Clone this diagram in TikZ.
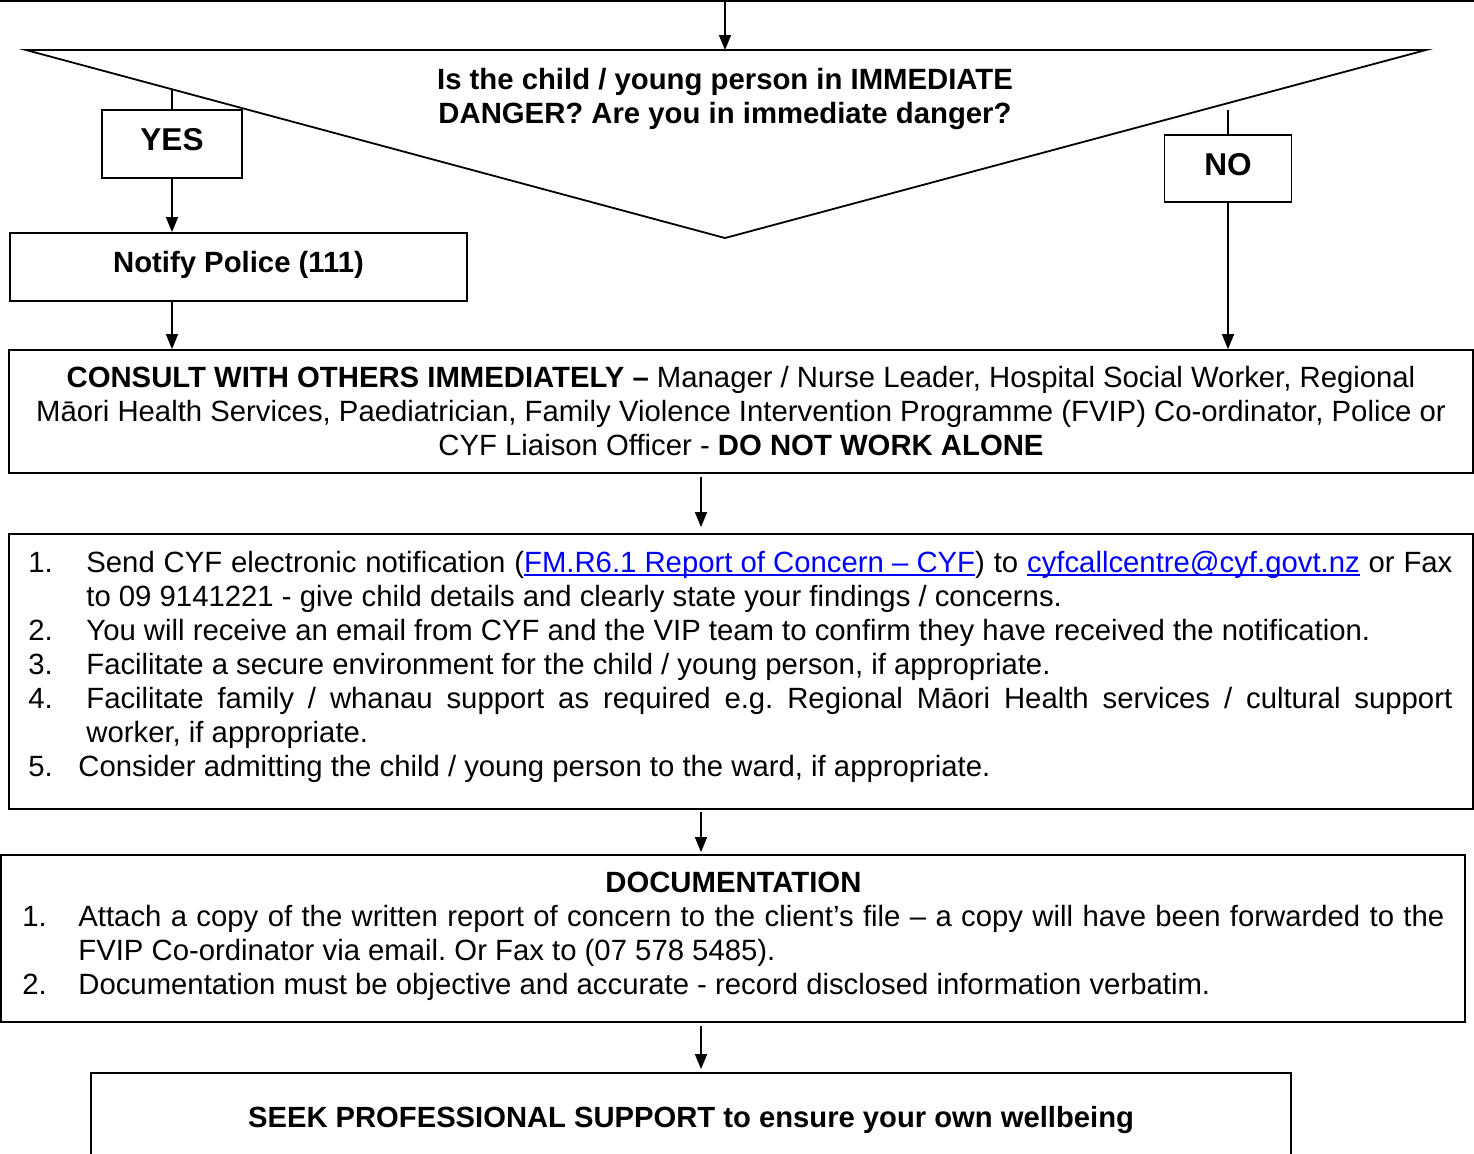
\documentclass[tikz,border=0pt]{standalone}
\usepackage{fontspec}
\setmainfont{Liberation Sans}
\usetikzlibrary{arrows.meta}
\definecolor{linkblue}{RGB}{0,0,255}
\newcommand{\lnk}[1]{\setbox0\hbox{#1}\textcolor{linkblue}{\rlap{\rule[-1.6pt]{\wd0}{0.7pt}}\box0}}
\newcommand{\itm}[3]{\par\noindent\hangindent=#2\hangafter=1\makebox[#2][l]{#1}#3}
\newcommand{\jfy}{\leftskip=0pt\rightskip=0pt\spaceskip=0pt\xspaceskip=0pt\parfillskip=0pt plus 1fil\parindent=0pt\emergencystretch=2em\relax}
\tikzset{
  boxn/.style={draw, line width=0.9pt, inner sep=0pt, align=center},
  arr/.style={line width=0.8pt, -{Triangle[length=7.5pt,width=6pt]}},
  ln/.style={line width=0.8pt},
  txt/.style={inner sep=0pt, font=\fontsize{14.65}{17}\selectfont},
  btxt/.style={inner sep=0pt, font=\fontsize{14.65}{17}\selectfont\bfseries},
  ltxt/.style={inner sep=0pt, align=justify, font=\fontsize{14.65}{17}\selectfont\frenchspacing},
}
\begin{document}
\begin{tikzpicture}[x=0.5pt,y=-0.5pt,font=\fontsize{14.65}{17}\selectfont]
\useasboundingbox (0,0) rectangle (1474,1153);
\clip (0,0) rectangle (1474,1153);
% top box (bottom edge only visible)
\node[boxn, minimum width=736pt, minimum height=20.5pt] (top) at (737,-19.5) {};
% triangle
\coordinate (tl) at (26,50);
\coordinate (tr) at (1426,50);
\coordinate (ap) at (725,238);
\coordinate (tt) at (725,50);
\draw[line width=0.9pt, line join=miter] (tl) -- (tr) -- (ap) -- cycle;
\node[btxt, align=center] (q) at (725,99)
  {Is the child / young person in IMMEDIATE\\DANGER? Are you in immediate danger?};
\draw[arr] (top.south -| tt) -- (tt);
% YES branch
\node[boxn, minimum width=70pt, minimum height=34pt] (yes) at (172,144) {};
\node[btxt, font=\fontsize{15.8}{18}\selectfont\bfseries] (yestxt) at (172,140) {YES};
\coordinate (yesTop) at (172,89.5);
\draw[ln] (yesTop) -- (yes.north);
\node[boxn, minimum width=228.5pt, minimum height=34pt] (notify) at (238.5,267) {};
\node[btxt] (notifytxt) at (238.5,265) {Notify Police (111)};
\draw[arr] (yes.south) -- (yes.south |- notify.north);
% NO branch
\node[boxn, minimum width=63.5pt, minimum height=33.5pt] (no) at (1228,168.5) {};
\node[btxt, font=\fontsize{15.8}{18}\selectfont\bfseries] (notxt) at (1228,165) {NO};
\coordinate (noTop) at (1228,110);
\draw[ln] (noTop) -- (no.north);
% consult
\node[boxn, minimum width=732pt, minimum height=61.5pt] (consult) at (741,411.5)
  {\textbf{CONSULT WITH OTHERS IMMEDIATELY –} Manager / Nurse Leader, Hospital Social Worker, Regional\\
   Māori Health Services, Paediatrician, Family Violence Intervention Programme (FVIP) Co-ordinator, Police or\\
   CYF Liaison Officer - \textbf{DO NOT WORK ALONE}};
\draw[arr] (notify.south -| yes.south) -- (consult.north -| yes.south);
\draw[arr] (no.south) -- (no.south |- consult.north);
% list box
\node[boxn, minimum width=732pt, minimum height=137.5pt] (list) at (741,671.5) {};
\node[ltxt, anchor=north west, text width=712pt] (listtxt) at (28,538) {%
  \jfy
  \itm{1.}{29pt}{\strut Send CYF electronic notification (\lnk{FM.R6.1 Report of Concern – CYF}) to \lnk{cyfcallcentre@cyf.govt.nz} or Fax\linebreak to 09 9141221 - give child details and clearly state your findings / concerns.}
  \itm{2.}{29pt}{You will receive an email from CYF and the VIP team to confirm they have received the notification.}
  \itm{3.}{29pt}{Facilitate a secure environment for the child / young person, if appropriate.}
  \itm{4.}{29pt}{Facilitate family / whanau support as required e.g. Regional Māori Health services / cultural support\linebreak worker, if appropriate.}
  \itm{5.}{25pt}{Consider admitting the child / young person to the ward, if appropriate.}\par};
\coordinate (c1) at (701,0);
\draw[arr, shorten <=1.5pt, shorten >=3pt] (consult.south -| c1) -- (list.north -| c1);
% documentation box
\node[boxn, minimum width=732pt, minimum height=83.5pt] (doc) at (733,938.5) {};
\node[ltxt, anchor=north west, text width=711pt] (doctxt) at (22,868) {%
  \jfy
  {\centering\strut\textbf{DOCUMENTATION}\par}
  \itm{1.}{28pt}{Attach a copy of the written report of concern to the client’s file – a copy will have been forwarded to the\linebreak FVIP Co-ordinator via email. Or Fax to (07 578 5485).}
  \itm{2.}{28pt}{Documentation must be objective and accurate - record disclosed information verbatim.}\par};
\draw[arr, shorten <=1pt, shorten >=1pt] (list.south -| c1) -- (doc.north -| c1);
% final box
\node[boxn, minimum width=600pt, minimum height=46pt] (final) at (691,1119) {};
\node[btxt, font=\fontsize{14.6}{17}\selectfont\bfseries] (finaltxt) at (691,1120) {SEEK PROFESSIONAL SUPPORT to ensure your own wellbeing};
\draw[arr, shorten <=1.5pt, shorten >=1.5pt] (doc.south -| c1) -- (final.north -| c1);
\end{tikzpicture}
\end{document}
